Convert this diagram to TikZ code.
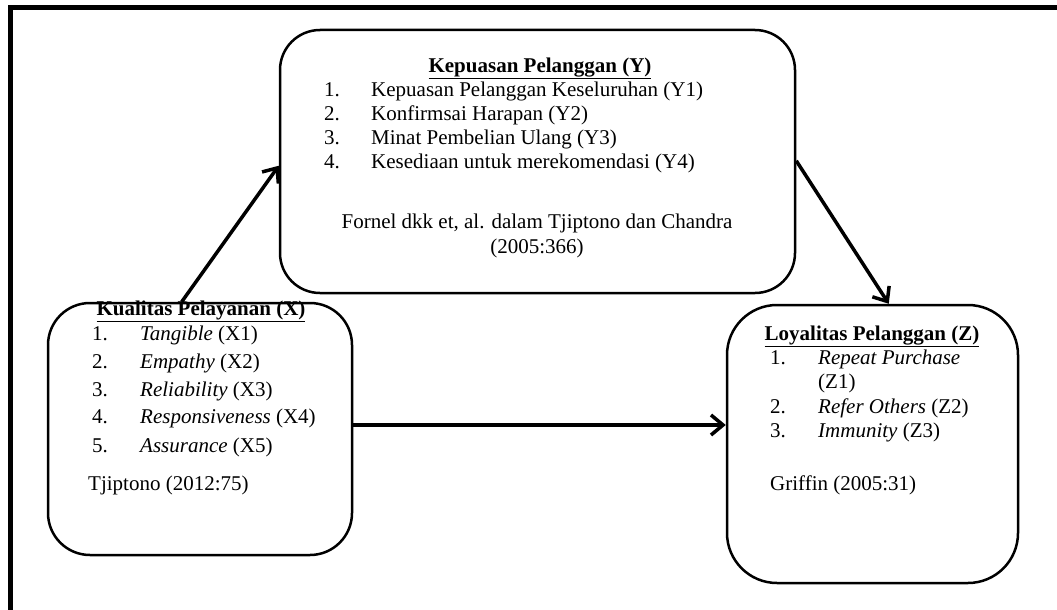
\documentclass[tikz,border=0pt]{standalone}
\usepackage{fontspec}
\setmainfont{Liberation Serif}
\usetikzlibrary{arrows.meta}
\begin{document}
\begin{tikzpicture}[x=1pt,y=-1pt,
  box/.style={draw, line width=2.5pt, inner sep=0pt, rectangle},
  txt/.style={anchor=base west, inner sep=0pt, font=\fontsize{21}{24}\selectfont},
  ctxt/.style={anchor=base, inner sep=0pt, font=\fontsize{21}{24}\selectfont},
  conn/.style={line width=3.5pt, -{Straight Barb[length=12pt,width=20pt,line width=3.5pt]}}]
\useasboundingbox (0,0) rectangle (1057,610);
\draw[line width=5pt] (10,612) -- (10,8) -- (1060,8);

% boxes
\node[box, rounded corners=40pt, minimum width=515pt, minimum height=263pt] (Y) at (537.5,161.5) {};
\node[box, rounded corners=42pt, minimum width=304pt, minimum height=252pt] (X) at (200,429) {};
\node[box, rounded corners=50pt, minimum width=291pt, minimum height=278pt] (Z) at (872.5,444) {};

% Y text
\node[ctxt] (yt) at (540,72) {\textbf{\underline{Kepuasan Pelanggan (Y)}}};
\node[txt] (yn1) at (324,96) {1.};
\node[txt] (yl1) at (371,96) {Kepuasan Pelanggan Keseluruhan (Y1)};
\node[txt] (yn2) at (324,120) {2.};
\node[txt] (yl2) at (371,120) {Konfirmsai Harapan (Y2)};
\node[txt] (yn3) at (324,144) {3.};
\node[txt] (yl3) at (371,144) {Minat Pembelian Ulang (Y3)};
\node[txt] (yn4) at (324,168) {4.};
\node[txt] (yl4) at (371,168) {Kesediaan untuk merekomendasi (Y4)};
\node[ctxt] (yc1) at (537,228) {Fornel dkk et, al. dalam Tjiptono dan Chandra};
\node[ctxt] (yc2) at (537,253) {(2005:366)};

% X text
\node[ctxt] (xt) at (201,315) {\textbf{\underline{Kualitas Pelayanan (X)}}};
\node[txt] (xn1) at (92,340) {1.};
\node[txt] (xl1) at (140,340) {\textit{Tangible} (X1)};
\node[txt] (xn2) at (92,368) {2.};
\node[txt] (xl2) at (140,368) {\textit{Empathy} (X2)};
\node[txt] (xn3) at (92,396) {3.};
\node[txt] (xl3) at (140,396) {\textit{Reliability} (X3)};
\node[txt] (xn4) at (92,423) {4.};
\node[txt] (xl4) at (140,423) {\textit{Responsiveness} (X4)};
\node[txt] (xn5) at (92,452) {5.};
\node[txt] (xl5) at (140,452) {\textit{Assurance} (X5)};
\node[txt] (xc) at (88,490) {Tjiptono (2012:75)};

% Z text
\node[ctxt] (zt) at (872,340) {\textbf{\underline{Loyalitas Pelanggan (Z)}}};
\node[txt] (zn1) at (770,364) {1.};
\node[txt] (zl1) at (818,364) {\textit{Repeat Purchase}};
\node[txt] (zl1b) at (818,388) {(Z1)};
\node[txt] (zn2) at (770,413) {2.};
\node[txt] (zl2) at (818,413) {\textit{Refer Others} (Z2)};
\node[txt] (zn3) at (770,437) {3.};
\node[txt] (zl3) at (818,437) {\textit{Immunity} (Z3)};
\node[txt] (zc) at (770,490) {Griffin (2005:31)};

% connectors
\draw[conn] ([xshift=135pt]X.north west) -- ([yshift=-137pt]Y.north west);
\draw[conn] ([yshift=-132pt]Y.north east) -- ([xshift=163pt]Z.north west);
\draw[conn] ([yshift=4pt]X.east) -- ([yshift=19pt]Z.west);
\end{tikzpicture}
\end{document}
